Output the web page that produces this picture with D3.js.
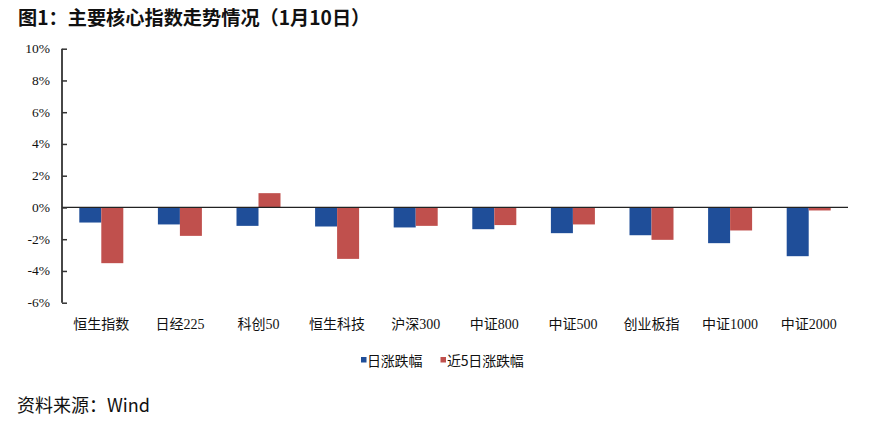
<!DOCTYPE html>
<html><head><meta charset="utf-8">
<script src="https://cdn.jsdelivr.net/npm/d3@7"></script>
<style>body{margin:0;background:#fff;}</style>
</head><body>
<svg id="c" width="884" height="432"></svg>
<script>
const categories = ["恒生指数","日经225","科创50","恒生科技","沪深300","中证800","中证500","创业板指","中证1000","中证2000"];
const dailyChange = [-0.95,-1.07,-1.16,-1.2,-1.26,-1.37,-1.62,-1.75,-2.25,-3.07];
const fiveDayChange = [-3.51,-1.79,0.9,-3.24,-1.16,-1.11,-1.07,-2.04,-1.45,-0.19];
const yTicks = [10,8,6,4,2,0,-2,-4,-6];
const seriesNames = ["日涨跌幅","近5日涨跌幅"];
const colors = ["#1f4e99","#c0504d"];

(function(){
const svg = d3.select("#c");
const mLeft = 62, mRight = 848, mTop = 48.7, mBottom = 302.7;
const y = d3.scaleLinear().domain([-6,10]).range([mBottom, mTop]);
const x = d3.scaleBand().domain(categories).range([mLeft, mRight]);
const groupW = 44;
const xs = d3.scaleBand().domain([0,1]).range([0, groupW]);

svg.append("text").attr("x",18).attr("y",25)
  .attr("font-family","'Noto Sans CJK SC', sans-serif").attr("font-weight","bold")
  .attr("font-size",19.2).attr("fill","#111")
  .text("图1：主要核心指数走势情况（1月10日）");

const series = [dailyChange, fiveDayChange];
series.forEach((vals, si) => {
  svg.append("g").selectAll("rect").data(vals).join("rect")
    .attr("x",(d,i)=> x(categories[i]) + (x.bandwidth()-groupW)/2 + xs(si))
    .attr("width", xs.bandwidth())
    .attr("y", d => y(Math.max(0,d)))
    .attr("height", d => Math.abs(y(d)-y(0)))
    .attr("fill", colors[si]);
});

svg.append("line").attr("x1",mLeft).attr("x2",mRight).attr("y1",y(0)).attr("y2",y(0))
  .attr("stroke","#222").attr("stroke-width",1.3);

const yAxis = d3.axisRight(y).tickValues(yTicks).tickSize(5).tickFormat(()=> "");
const ga = svg.append("g").attr("transform",`translate(${mLeft},0)`).call(yAxis);
ga.select(".domain").attr("stroke","#333").attr("stroke-width",1.8).attr("d",`M0,${mTop}V${mBottom}`);
ga.selectAll(".tick line").attr("stroke","#333").attr("stroke-width",1.5);
svg.append("g").selectAll("text").data(yTicks).join("text")
  .attr("x",50).attr("y",d=>y(d)+4.5).attr("text-anchor","end")
  .attr("font-family","'Liberation Serif', serif").attr("font-size",13.5).attr("fill","#111")
  .text(d=> d + "%");

svg.append("g").selectAll("text").data(categories).join("text")
  .attr("x",d=> x(d)+x.bandwidth()/2).attr("y",329).attr("text-anchor","middle")
  .attr("font-family","'Liberation Serif', 'Noto Sans CJK SC', serif").attr("font-size",14).attr("fill","#111")
  .text(d=>d);

const lg = [{x:361, tx:367},{x:440.5, tx:447}];
lg.forEach((p,i)=>{
  svg.append("rect").attr("x",p.x).attr("y",357).attr("width",5.5).attr("height",5.5).attr("fill",colors[i]);
  svg.append("text").attr("x",p.tx).attr("y",365.5)
    .attr("font-family","'Noto Sans CJK SC', sans-serif").attr("font-size",14).attr("fill","#111")
    .attr("letter-spacing",-0.2)
    .text(seriesNames[i]);
});

svg.append("text").attr("x",17).attr("y",412)
  .attr("font-family","'Noto Sans CJK SC', sans-serif").attr("font-size",18).attr("fill","#111")
  .text("资料来源：Wind");
})();
</script>
</body></html>
